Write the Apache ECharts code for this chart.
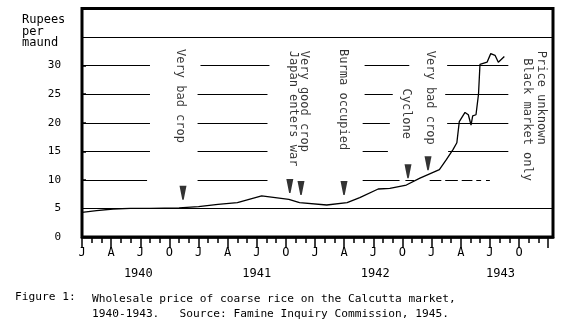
<!DOCTYPE html>
<html>
<head>
<meta charset="utf-8">
<script src="https://cdn.jsdelivr.net/npm/echarts@6/dist/echarts.min.js"></script>
<style>
  html, body { margin: 0; padding: 0; background: #fff; }
  #chart { width: 572px; height: 329px; }
</style>
</head>
<body>
<div id="chart"></div>
<script>
// Wholesale price of coarse rice, Calcutta, Rupees per maund.
// Time is measured in months from January 1940.
const priceMonths = [0, 1.5, 3.2, 5, 7, 10, 12, 14, 16, 18.5, 21.3, 22.4, 25.2, 27.3, 28.6, 30.5, 31.7, 33.4, 34.8, 36.8, 37.5, 38.2, 38.6, 38.85, 39.44, 39.78, 40.06, 40.23, 40.57, 40.83, 40.98, 41.71, 42.09, 42.53, 42.87, 43.49];
const priceValues = [4.3, 4.6, 4.9, 5.0, 5.0, 5.1, 5.3, 5.7, 6.0, 7.2, 6.6, 6.0, 5.6, 6.0, 6.9, 8.4, 8.5, 9.1, 10.3, 11.8, 13.5, 15.3, 16.5, 20.2, 21.8, 21.4, 19.6, 21.2, 21.4, 25.0, 30.2, 30.6, 32.1, 31.8, 30.6, 31.6];

const quarterLetters = ['J', 'A', 'J', 'O'];
const yearNames = ['1940', '1941', '1942', '1943'];
const yLabelValues = [0, 5, 10, 15, 20, 25, 30];

// Event notes and the months their arrows point at
const eventNotes = ['Very bad crop', 'Japan enters war', 'Very good crop', 'Burma occupied', 'Cyclone', 'Very bad crop', 'Black market only', 'Price unknown'];
const arrowMonths = [10.4, 21.4, 22.55, 26.98, 33.57, 35.63];
const arrowValues = [6.5, 7.7, 7.35, 7.35, 10.3, 11.7];

// ---- layout ----
const FONT = '"DejaVu Sans Mono", "Liberation Mono", monospace';
const X_MAX = 48.5;
// where each vertical note starts: [month, value at top of text]
const noteAnchors = [[10.1, 32.9], [21.7, 32.6], [22.9, 32.6], [26.9, 32.9], [33.4, 26.0], [35.8, 32.6], [45.8, 31.3], [47.3, 32.6]];
const yearCenters = [5.8, 18.0, 30.2, 43.1];
// ruled lines: [value, from month, to month]
const ruleSegments = [
  [35, 0, X_MAX], [5, 0, X_MAX],
  [30, 0, 7.0], [30, 12.2, 19.3], [30, 29.1, 33.7], [30, 37.6, 43.9],
  [25, 0, 7.0], [25, 11.9, 19.1], [25, 29.1, 32.0], [25, 37.4, 43.9],
  [20, 0, 7.0], [20, 11.9, 19.1], [20, 28.9, 31.7], [20, 37.6, 43.9],
  [15, 0, 7.0], [15, 11.9, 19.1], [15, 28.9, 31.5], [15, 37.7, 43.9],
  [10, 0, 6.7], [10, 11.9, 19.1], [10, 28.9, 32.7],
  [10, 33.3, 34.2], [10, 35.8, 37.0], [10, 37.4, 38.7], [10, 39.1, 40.2], [10, 40.6, 41.1], [10, 41.6, 42.0]
];

const quarterTicks = [];
for (let m = 0; m <= 48; m += 3) quarterTicks.push(m);
const monthTicks = [];
for (let m = 0; m <= 48; m += 1) monthTicks.push(m);

const chart = echarts.init(document.getElementById('chart'), null, { renderer: 'canvas' });

const baseX = { type: 'value', min: 0, max: X_MAX, position: 'bottom', splitLine: { show: false } };

chart.setOption({
  animation: false,
  backgroundColor: '#fff',
  grid: { left: 82, right: 19, top: 8.5, bottom: 92, show: true, borderColor: '#000', borderWidth: 3, backgroundColor: 'transparent' },
  xAxis: [
    Object.assign({}, baseX, {
      axisLine: { show: true, lineStyle: { color: '#000', width: 2.5 } },
      axisTick: { show: true, customValues: quarterTicks, length: 11, lineStyle: { color: '#000', width: 1.5 } },
      axisLabel: {
        customValues: quarterTicks.slice(0, 16),
        formatter: v => quarterLetters[Math.round(v / 3) % 4],
        margin: 10, color: '#000', fontFamily: FONT, fontSize: 12
      }
    }),
    Object.assign({}, baseX, {
      axisLine: { show: false },
      axisTick: { show: true, customValues: monthTicks, length: 6, lineStyle: { color: '#000', width: 1.5 } },
      axisLabel: { show: false }
    }),
    Object.assign({}, baseX, {
      axisLine: { show: false },
      axisTick: { show: false },
      axisLabel: {
        customValues: yearCenters,
        formatter: v => yearNames[Math.floor(v / 12)],
        margin: 31, color: '#000', fontFamily: FONT, fontSize: 12
      }
    })
  ],
  yAxis: [
    {
      type: 'value', min: 0, max: 40, interval: 5, position: 'left',
      axisLine: { show: false }, axisTick: { show: false }, splitLine: { show: false },
      axisLabel: {
        customValues: yLabelValues,
        margin: 21, color: '#000', fontFamily: FONT, fontSize: 11
      }
    },
    {
      type: 'value', min: 0, max: 40, interval: 5, position: 'right',
      axisLine: { show: false }, splitLine: { show: false }, axisLabel: { show: false },
      axisTick: { show: true, customValues: [10, 15, 20, 25, 30], length: 4, lineStyle: { color: '#000', width: 1.5 } }
    }
  ],
  graphic: [
    { type: 'text', left: 22, top: 14, style: { text: 'Rupees\nper\nmaund', font: '12px ' + FONT, lineHeight: 11.5, fill: '#000' } },
    { type: 'text', left: 15, top: 291.5, style: { text: 'Figure 1:', font: '11.2px ' + FONT, fill: '#000' } },
    { type: 'text', left: 92, top: 291.5, style: { text: 'Wholesale price of coarse rice on the Calcutta market,\n1940-1943.   Source: Famine Inquiry Commission, 1945.', font: '11.2px ' + FONT, lineHeight: 15, fill: '#000' } }
  ],
  series: [
    {
      name: 'rules', type: 'lines', coordinateSystem: 'cartesian2d', silent: true, z: 1,
      lineStyle: { color: '#000', width: 1.2, opacity: 1 },
      data: ruleSegments.map(s => ({ coords: [[s[1], s[0]], [s[2], s[0]]] }))
    },
    {
      name: 'price', type: 'line', showSymbol: false, silent: true, z: 4,
      lineStyle: { color: '#000', width: 1.3 },
      data: priceMonths.map((m, i) => [m, priceValues[i]])
    },
    {
      name: 'events', type: 'scatter', silent: true, z: 5,
      symbol: 'path://M0,0 L7,0 L5.2,9 L4.2,14 L2.8,14 L1.8,9 Z',
      symbolSize: [7, 14], symbolOffset: [0, '-50%'],
      itemStyle: { color: '#000' },
      data: arrowMonths.map((m, i) => [m, arrowValues[i]])
    },
    {
      name: 'notes', type: 'scatter', silent: true, z: 6, clip: false,
      symbolSize: 1, itemStyle: { color: 'rgba(0,0,0,0)' },
      label: {
        show: true, position: 'inside', rotate: -90, align: 'left', verticalAlign: 'middle',
        formatter: p => p.name, color: '#000', fontFamily: FONT, fontSize: 12
      },
      data: eventNotes.map((t, i) => ({ name: t, value: noteAnchors[i] }))
    }
  ]
});
</script>
</body>
</html>
